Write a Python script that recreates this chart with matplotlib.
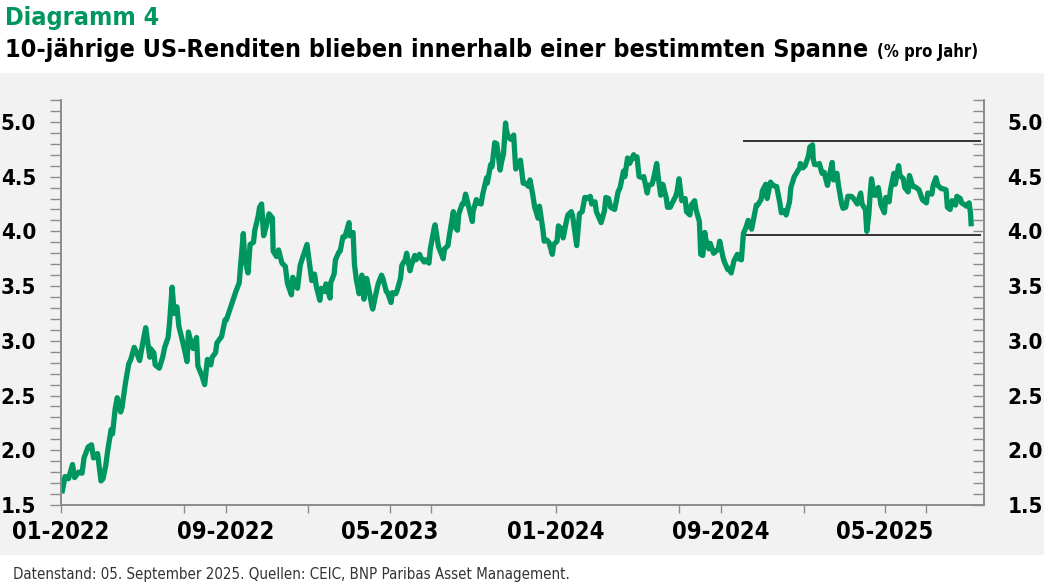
import numpy as np
import pandas as pd
import matplotlib
matplotlib.use('Agg')
import matplotlib.pyplot as plt
import matplotlib.dates as mdates
from matplotlib.patches import Rectangle

# 10y US treasury yield (% p.a.)
d22 = ['01-03', '01-07', '01-12', '01-18', '01-21', '01-27', '02-01', '02-04', '02-10', '02-15',
       '02-18', '02-24', '03-01', '03-04', '03-08', '03-11', '03-16', '03-18', '03-22', '03-25',
       '03-30', '04-01', '04-06', '04-11', '04-14', '04-19', '04-22', '04-27', '05-02', '05-06',
       '05-12', '05-13', '05-18', '05-20', '05-26', '05-31', '06-03', '06-08', '06-10', '06-14',
       '06-17', '06-21', '06-24', '06-30', '07-06', '07-08', '07-13', '07-15', '07-20', '07-22',
       '07-28', '08-01', '08-05', '08-10', '08-12', '08-17', '08-19', '08-26', '08-31', '09-02',
       '09-09', '09-14', '09-16', '09-21', '09-23', '09-27', '09-29', '10-04', '10-07', '10-12',
       '10-14', '10-19', '10-21', '10-24', '10-27', '10-31', '11-04', '11-09', '11-10', '11-15',
       '11-18', '11-23', '11-28', '12-01', '12-02', '12-07', '12-09', '12-13', '12-16', '12-20',
       '12-23', '12-30']
y22 = [1.63, 1.76, 1.74, 1.87, 1.75, 1.80, 1.79, 1.93, 2.03, 2.05,
       1.93, 1.97, 1.72, 1.74, 1.86, 2.00, 2.19, 2.15, 2.38, 2.48,
       2.35, 2.39, 2.61, 2.79, 2.83, 2.94, 2.90, 2.82, 2.99, 3.12,
       2.85, 2.93, 2.89, 2.78, 2.75, 2.85, 2.94, 3.03, 3.15, 3.49,
       3.25, 3.31, 3.13, 2.98, 2.81, 3.08, 2.96, 2.93, 3.03, 2.77,
       2.68, 2.60, 2.83, 2.78, 2.85, 2.89, 2.98, 3.04, 3.19, 3.19,
       3.32, 3.41, 3.45, 3.53, 3.69, 3.98, 3.75, 3.62, 3.88, 3.90,
       4.01, 4.14, 4.22, 4.25, 3.96, 4.05, 4.16, 4.12, 3.82, 3.77,
       3.83, 3.71, 3.68, 3.53, 3.51, 3.42, 3.58, 3.50, 3.48, 3.69,
       3.75, 3.88]

d23 = ['01-06', '01-10', '01-13', '01-18', '01-20', '01-25', '01-27', '02-02', '02-03', '02-08',
       '02-10', '02-15', '02-17', '02-21', '02-24', '03-02', '03-03', '03-08', '03-10', '03-13',
       '03-17', '03-21', '03-24', '03-28', '03-31', '04-05', '04-06', '04-10', '04-14', '04-19',
       '04-21', '04-26', '04-28', '05-03', '05-05', '05-10', '05-12', '05-17', '05-19', '05-24',
       '05-26', '05-31', '06-02', '06-07', '06-09', '06-14', '06-16', '06-21', '06-23', '06-28',
       '06-30', '07-06', '07-07', '07-12', '07-14', '07-19', '07-21', '07-26', '07-28', '08-03',
       '08-04', '08-09', '08-11', '08-16', '08-18', '08-21', '08-25', '08-31', '09-01', '09-06',
       '09-08', '09-13', '09-15', '09-21', '09-22', '09-27', '09-29', '10-03', '10-06', '10-11',
       '10-13', '10-16', '10-19', '10-20', '10-23', '10-27', '10-31', '11-01', '11-03', '11-09',
       '11-10', '11-14', '11-17', '11-22', '11-24', '11-28', '12-01', '12-06', '12-08', '12-13',
       '12-15', '12-19', '12-22', '12-27', '12-29']
y23 = [3.55, 3.61, 3.49, 3.37, 3.48, 3.45, 3.52, 3.39, 3.53, 3.61,
       3.74, 3.81, 3.82, 3.95, 3.95, 4.08, 3.96, 3.99, 3.70, 3.55,
       3.43, 3.60, 3.38, 3.57, 3.48, 3.31, 3.29, 3.41, 3.52, 3.60,
       3.57, 3.45, 3.44, 3.35, 3.44, 3.43, 3.46, 3.57, 3.69, 3.74,
       3.80, 3.64, 3.69, 3.78, 3.74, 3.79, 3.76, 3.72, 3.74, 3.71,
       3.84, 4.04, 4.06, 3.86, 3.83, 3.75, 3.84, 3.87, 3.96, 4.18,
       4.05, 4.01, 4.16, 4.25, 4.25, 4.34, 4.24, 4.09, 4.18, 4.29,
       4.26, 4.25, 4.33, 4.49, 4.44, 4.61, 4.59, 4.81, 4.80, 4.56,
       4.63, 4.71, 4.99, 4.93, 4.86, 4.84, 4.88, 4.77, 4.57, 4.63,
       4.65, 4.44, 4.44, 4.41, 4.47, 4.34, 4.22, 4.12, 4.23, 4.02,
       3.91, 3.92, 3.90, 3.79, 3.88]

d24 = ['01-03', '01-05', '01-10', '01-12', '01-17', '01-19', '01-24', '01-26', '01-31', '02-01',
       '02-05', '02-09', '02-13', '02-16', '02-21', '02-23', '02-28', '03-01', '03-06', '03-08',
       '03-13', '03-15', '03-19', '03-22', '03-28', '04-02', '04-05', '04-10', '04-12', '04-16',
       '04-19', '04-25', '04-26', '04-30', '05-03', '05-08', '05-10', '05-15', '05-17', '05-22',
       '05-24', '05-29', '05-31', '06-04', '06-07', '06-12', '06-14', '06-18', '06-21', '06-26',
       '06-28', '07-01', '07-05', '07-10', '07-12', '07-17', '07-19', '07-24', '07-26', '07-31',
       '08-02', '08-05', '08-08', '08-09', '08-14', '08-16', '08-21', '08-23', '08-28', '08-30',
       '09-04', '09-06', '09-11', '09-13', '09-16', '09-20', '09-25', '09-27', '10-01', '10-04',
       '10-08', '10-11', '10-16', '10-18', '10-23', '10-25', '10-30', '11-01', '11-06', '11-08',
       '11-13', '11-15', '11-20', '11-22', '11-27', '11-29', '12-04', '12-06', '12-11', '12-13',
       '12-18', '12-20', '12-26', '12-27', '12-31']
y24 = [3.91, 4.05, 4.02, 3.94, 4.10, 4.15, 4.18, 4.14, 3.91, 3.87,
       4.16, 4.18, 4.31, 4.30, 4.32, 4.25, 4.27, 4.18, 4.11, 4.08,
       4.19, 4.31, 4.30, 4.22, 4.20, 4.36, 4.40, 4.55, 4.50, 4.67,
       4.62, 4.70, 4.67, 4.68, 4.50, 4.49, 4.50, 4.35, 4.42, 4.43,
       4.47, 4.62, 4.51, 4.33, 4.43, 4.31, 4.22, 4.22, 4.26, 4.32,
       4.36, 4.48, 4.28, 4.30, 4.18, 4.15, 4.24, 4.28, 4.20, 4.09,
       3.79, 3.78, 3.99, 3.94, 3.84, 3.89, 3.80, 3.81, 3.84, 3.91,
       3.76, 3.72, 3.65, 3.66, 3.62, 3.73, 3.79, 3.75, 3.74, 3.98,
       4.04, 4.10, 4.02, 4.08, 4.24, 4.24, 4.29, 4.37, 4.43, 4.30,
       4.45, 4.43, 4.41, 4.41, 4.25, 4.17, 4.19, 4.15, 4.27, 4.40,
       4.50, 4.52, 4.58, 4.62, 4.58]

d25 = ['01-03', '01-08', '01-10', '01-14', '01-15', '01-17', '01-22', '01-24', '01-28', '01-31',
       '02-05', '02-07', '02-12', '02-14', '02-19', '02-21', '02-26', '02-28', '03-04', '03-07',
       '03-12', '03-14', '03-18', '03-21', '03-26', '03-28', '04-02', '04-04', '04-07', '04-09',
       '04-11', '04-15', '04-17', '04-21', '04-25', '04-30', '05-02', '05-07', '05-09', '05-14',
       '05-16', '05-21', '05-23', '05-28', '05-30', '06-04', '06-06', '06-11', '06-13', '06-18',
       '06-20', '06-25', '06-27', '07-01', '07-03', '07-09', '07-11', '07-15', '07-18', '07-23',
       '07-25', '07-30', '08-01', '08-05', '08-08', '08-13', '08-15', '08-20', '08-22', '08-27',
       '08-29', '09-02', '09-04', '09-05']
y25 = [4.60, 4.69, 4.77, 4.79, 4.66, 4.61, 4.61, 4.62, 4.53, 4.54,
       4.42, 4.49, 4.63, 4.47, 4.53, 4.43, 4.25, 4.21, 4.22, 4.32,
       4.32, 4.31, 4.28, 4.25, 4.35, 4.25, 4.20, 4.00, 4.15, 4.34,
       4.48, 4.33, 4.33, 4.40, 4.24, 4.17, 4.31, 4.27, 4.38, 4.53,
       4.43, 4.60, 4.51, 4.48, 4.40, 4.36, 4.51, 4.41, 4.41, 4.39,
       4.38, 4.29, 4.28, 4.26, 4.35, 4.34, 4.42, 4.49, 4.42, 4.39,
       4.39, 4.38, 4.22, 4.20, 4.28, 4.24, 4.32, 4.30, 4.26, 4.24,
       4.23, 4.26, 4.17, 4.07]

# band drawn on the chart
band_low = 3.97
band_high = 4.83
band_start = '2024-10-04'

tick_labeled = ['2022-01-01', '2022-09-01', '2023-05-01', '2024-01-01', '2024-09-01', '2025-05-01']
tick_extra = ['2022-07-01', '2023-01-01', '2023-07-01', '2024-07-01', '2025-01-01', '2025-07-01']

dates = pd.to_datetime(['2022-' + d for d in d22] + ['2023-' + d for d in d23]
                       + ['2024-' + d for d in d24] + ['2025-' + d for d in d25])
yields = np.array(y22 + y23 + y24 + y25)

green = '#00965F'
grey_bg = '#f2f2f2'
axis_grey = '#8c8c8c'
fam = ['DejaVu Sans']
stretch = 'condensed'

fig = plt.figure(figsize=(10.44, 5.85), dpi=100)
fig.patches.append(Rectangle((0, 30 / 585), 1, 482 / 585, transform=fig.transFigure,
                             facecolor=grey_bg, edgecolor='none', zorder=-5))

ax = fig.add_axes([61 / 1044, 80 / 585, 923 / 1044, 405 / 585])
ax.set_facecolor(grey_bg)
ax.plot(dates, yields, color=green, lw=3.8, solid_joinstyle='round', zorder=3)

xend = pd.Timestamp('2025-09-24')
ax.hlines([band_high, band_low], pd.Timestamp(band_start), pd.Timestamp('2025-09-20'),
          color='black', lw=1.1, zorder=2)

ax.set_xlim(pd.Timestamp('2022-01-01'), xend)
ax.set_ylim(1.5, 5.2)

ax.set_xticks(pd.to_datetime(tick_labeled))
ax.set_xticks(pd.to_datetime(tick_extra), minor=True)
ax.xaxis.set_major_formatter(mdates.DateFormatter('%m-%Y'))
ax.tick_params(axis='x', which='both', direction='out', length=6, width=1,
               color=axis_grey, pad=5, labelsize=17)

ax.set_yticks(np.arange(1.5, 5.01, 0.5))
ax.set_yticks(np.arange(1.5, 5.21, 0.1), minor=True)
ax.yaxis.set_major_formatter(matplotlib.ticker.FormatStrFormatter('%.1f'))
ax.tick_params(axis='y', which='both', direction='out', length=8, width=1,
               color=axis_grey, pad=10, labelsize=16)

ax2 = ax.twinx()
ax2.set_ylim(ax.get_ylim())
ax2.set_yticks(np.arange(1.5, 5.01, 0.5))
ax2.set_yticks(np.arange(1.5, 5.21, 0.1), minor=True)
ax2.yaxis.set_major_formatter(matplotlib.ticker.FormatStrFormatter('%.1f'))
ax2.tick_params(axis='y', which='both', direction='in', length=8, width=1,
                color=axis_grey, pad=17, labelsize=16)

for a in (ax, ax2):
    a.spines['top'].set_visible(False)
    for s in ('left', 'right', 'bottom'):
        a.spines[s].set_color(axis_grey)
        a.spines[s].set_linewidth(1.2)
    for lab in a.get_xticklabels() + a.get_yticklabels():
        lab.set_family(fam)
        lab.set_stretch(stretch)
        lab.set_fontweight('bold')

fig.text(5 / 1044, 1 - 25 / 585, 'Diagramm 4', color=green, fontsize=18,
         fontweight='bold', family=fam, stretch=stretch, va='baseline', ha='left')
t = fig.text(5 / 1044, 1 - 57 / 585, '10-jährige US-Renditen blieben innerhalb einer bestimmten Spanne',
             color='black', fontsize=18, fontweight='bold', family=fam, stretch=stretch,
             va='baseline', ha='left')
fig.canvas.draw()
bb = t.get_window_extent().transformed(fig.transFigure.inverted())
fig.text(bb.x1 + 9 / 1044, 1 - 57 / 585, '(% pro Jahr)', color='black', fontsize=12,
         fontweight='bold', family=fam, stretch=stretch, va='baseline', ha='left')

fig.text(13 / 1044, 11 / 585, 'Datenstand: 05. September 2025. Quellen: CEIC, BNP Paribas Asset Management.',
         color='#333333', fontsize=10.8, family=fam, stretch=stretch, va='center', ha='left')

fig.savefig('out.png', dpi=100, facecolor='white')
